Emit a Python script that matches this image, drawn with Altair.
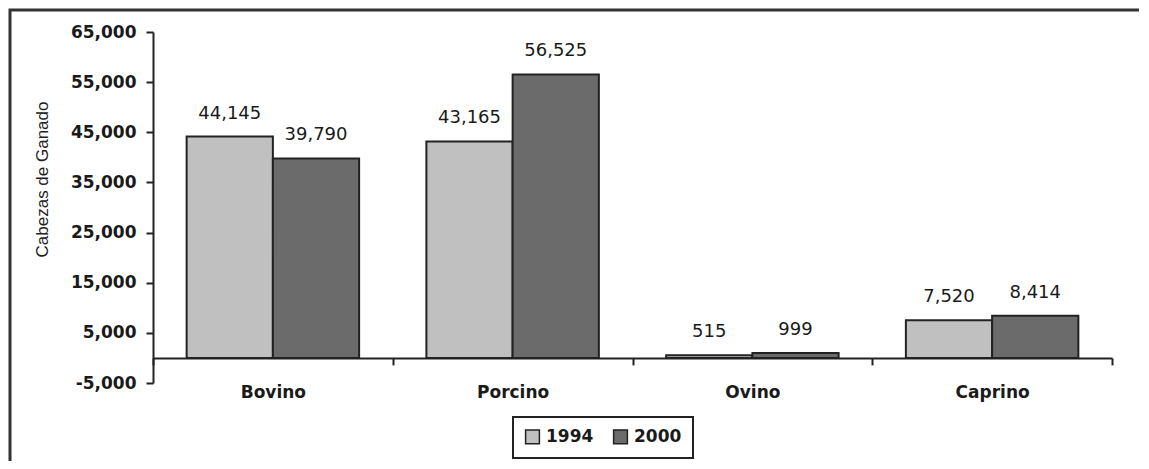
import altair as alt
import pandas as pd

categories = ["Bovino", "Porcino", "Ovino", "Caprino"]
years = ["1994", "2000"]
values_1994 = [44145, 43165, 515, 7520]
values_2000 = [39790, 56525, 999, 8414]
y_ticks = [-5000, 5000, 15000, 25000, 35000, 45000, 55000, 65000]
bar_colors = ["#c0c0c0", "#6b6b6b"]
y_title = "Cabezas de Ganado"

rows = []
for c, a, b in zip(categories, values_1994, values_2000):
    rows.append({"Especie": c, "Año": years[0], "Cabezas": a})
    rows.append({"Especie": c, "Año": years[1], "Cabezas": b})
df = pd.DataFrame(rows)

W, H = 959, 351
PL, PT, PR, PB = 145, 24, 27, 78
ZERO_OFF = -(H - H * 65000 / 70000)

FONT_W = "DejaVu Sans"
FONT_A = "Liberation Sans"
INK = "#1a1a1a"

x_enc = alt.X(
    "Especie:N",
    sort=categories,
    scale=alt.Scale(paddingInner=0, paddingOuter=0),
    axis=alt.Axis(
        title=None,
        offset=ZERO_OFF,
        tickBand="extent",
        tickSize=7,
        tickWidth=2,
        tickColor="#222",
        domainColor="#222",
        domainWidth=2,
        labelAngle=0,
        labelPadding=20,
        labelFont=FONT_W,
        labelFontSize=17,
        labelFontWeight="bold",
        labelColor=INK,
    ),
)
xo_enc = alt.XOffset("Año:N", sort=years, scale=alt.Scale(paddingInner=0, paddingOuter=0.39))
y_enc = alt.Y(
    "Cabezas:Q",
    scale=alt.Scale(domain=[-5000, 65000], nice=False, zero=False),
    axis=alt.Axis(
        title=y_title,
        values=y_ticks,
        labelExpr="replace(format(datum.value, ',.0f'), '\u2212', '-')",
        grid=False,
        tickSize=7,
        tickWidth=2,
        tickColor="#222",
        domainColor="#222",
        domainWidth=2,
        labelPadding=10,
        labelFont=FONT_W,
        labelFontSize=17,
        labelFontWeight="bold",
        labelColor=INK,
        titleFont=FONT_A,
        titleFontSize=17,
        titleFontWeight="normal",
        titleColor="#222",
        titleAngle=270,
        titleX=-111,
        titleY=147,
        titleAlign="center",
        titleBaseline="middle",
    ),
)

base = alt.Chart(df)

bars = base.mark_bar(stroke="#222", strokeWidth=2, opacity=1).encode(
    x=x_enc,
    xOffset=xo_enc,
    y=y_enc,
    color=alt.Color(
        "Año:N",
        sort=years,
        scale=alt.Scale(domain=years, range=bar_colors),
        legend=alt.Legend(
            title=None,
            orient="none",
            legendX=360,
            legendY=385,
            direction="horizontal",
            symbolType="square",
            symbolSize=190,
            symbolStrokeColor="#222",
            symbolStrokeWidth=1.5,
            labelFont=FONT_W,
            labelFontSize=17,
            labelFontWeight="bold",
            labelColor=INK,
            labelOffset=5,
            columnPadding=16,
            padding=11,
            strokeColor="#222",
            fillColor="white",
        ),
    ),
)

labels = base.mark_text(
    baseline="alphabetic", dy=-18, font=FONT_W, fontSize=18, color=INK
).encode(
    x=alt.X("Especie:N", sort=categories),
    xOffset=alt.XOffset("Año:N", sort=years),
    y=alt.Y("Cabezas:Q"),
    text=alt.Text("Cabezas:Q", format=","),
)

border = alt.Chart(pd.DataFrame({"k": [0]})).mark_rect(
    filled=False, stroke="#333", strokeWidth=3
).encode(
    x=alt.value(-143),
    x2=alt.value(W + 100),
    y=alt.value(-22),
    y2=alt.value(H + 200),
)

chart = (
    alt.layer(border, bars, labels)
    .properties(
        width=W,
        height=H,
        padding={"left": PL, "top": PT, "right": PR, "bottom": PB},
        autosize=alt.AutoSizeParams(type="none"),
        background="white",
    )
    .configure_view(stroke=None)
    .configure_legend(strokeWidth=2)
)

chart.save("out.html", embed_options={"renderer": "svg", "actions": False})
